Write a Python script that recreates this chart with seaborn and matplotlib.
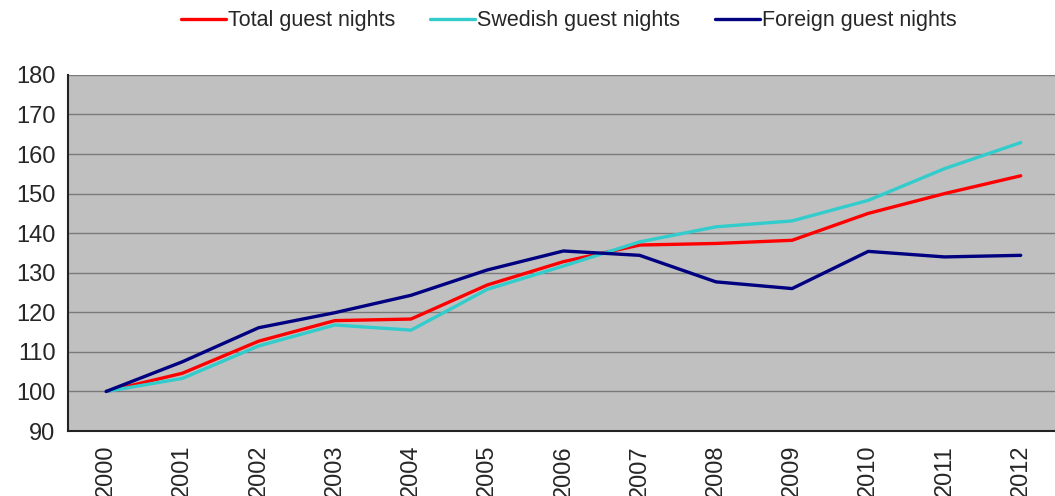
import numpy as np
import pandas as pd
import matplotlib
matplotlib.use("Agg")
import matplotlib.pyplot as plt
import seaborn as sns
from matplotlib.ticker import FixedLocator, NullFormatter

# Data (index, 2000 = 100)
years = [2000, 2001, 2002, 2003, 2004, 2005, 2006, 2007, 2008, 2009, 2010, 2011, 2012]
total = [100, 104.6, 112.7, 117.9, 118.3, 126.9, 132.8, 137.0, 137.4, 138.2, 145.0, 150.0, 154.5]
swedish = [100, 103.3, 111.5, 116.8, 115.5, 125.8, 131.7, 137.8, 141.6, 143.1, 148.3, 156.3, 162.9]
foreign = [100, 107.5, 116.1, 119.9, 124.3, 130.7, 135.5, 134.4, 127.7, 126.0, 135.4, 134.0, 134.4]

series_names = ["Total guest nights", "Swedish guest nights", "Foreign guest nights"]
colors = ["#ff0000", "#33cccc", "#000080"]

df = pd.DataFrame({
    "pos": list(range(len(years))) * 3,
    "value": total + swedish + foreign,
    "series": [series_names[0]] * len(years) + [series_names[1]] * len(years) + [series_names[2]] * len(years),
})

sns.set_style("white")
plt.rcParams['font.family'] = ['Liberation Sans', 'DejaVu Sans']

fig = plt.figure(figsize=(10.55, 4.96), dpi=100)
ax = fig.add_axes([0.0645, 0.131, 0.9355, 0.718])
ax.set_facecolor("#c0c0c0")

sns.lineplot(data=df, x="pos", y="value", hue="series", hue_order=series_names,
             palette=colors, linewidth=2.4, ax=ax, legend=True)

# y axis
ax.set_ylim(90, 180)
ax.set_yticks(range(90, 181, 10))
ax.yaxis.grid(True, color="#7a7a7a", linewidth=1.0)
ax.xaxis.grid(False)
ax.set_axisbelow(True)
ax.tick_params(axis="y", labelsize=17, length=6, width=1, color="#333333", direction="out", pad=3)

# x axis: tick marks between categories, labels at centres
ax.set_xlim(-0.5, 12.45)
ax.xaxis.set_major_locator(FixedLocator(np.arange(-0.5, 12.6, 1)))
ax.xaxis.set_major_formatter(NullFormatter())
ax.xaxis.set_minor_locator(FixedLocator(range(len(years))))
ax.set_xticklabels([str(y) for y in years], minor=True, rotation=90)
ax.tick_params(axis="x", which="major", length=6, width=1, color="#333333", direction="out")
ax.tick_params(axis="x", which="minor", length=0, labelsize=17, pad=10)

ax.set_xlabel("")
ax.set_ylabel("")

for side in ["top", "right"]:
    ax.spines[side].set_visible(False)
for side in ["left", "bottom"]:
    ax.spines[side].set_color("#222222")
    ax.spines[side].set_linewidth(1.5)

handles, labels = ax.get_legend_handles_labels()
ax.legend(handles, labels, loc="center", bbox_to_anchor=(0.539, 0.958),
          bbox_transform=fig.transFigure, ncol=3, frameon=False, fontsize=15.5,
          handlelength=2.1, handletextpad=0.1, columnspacing=1.6)

fig.savefig("out.png", dpi=100)
